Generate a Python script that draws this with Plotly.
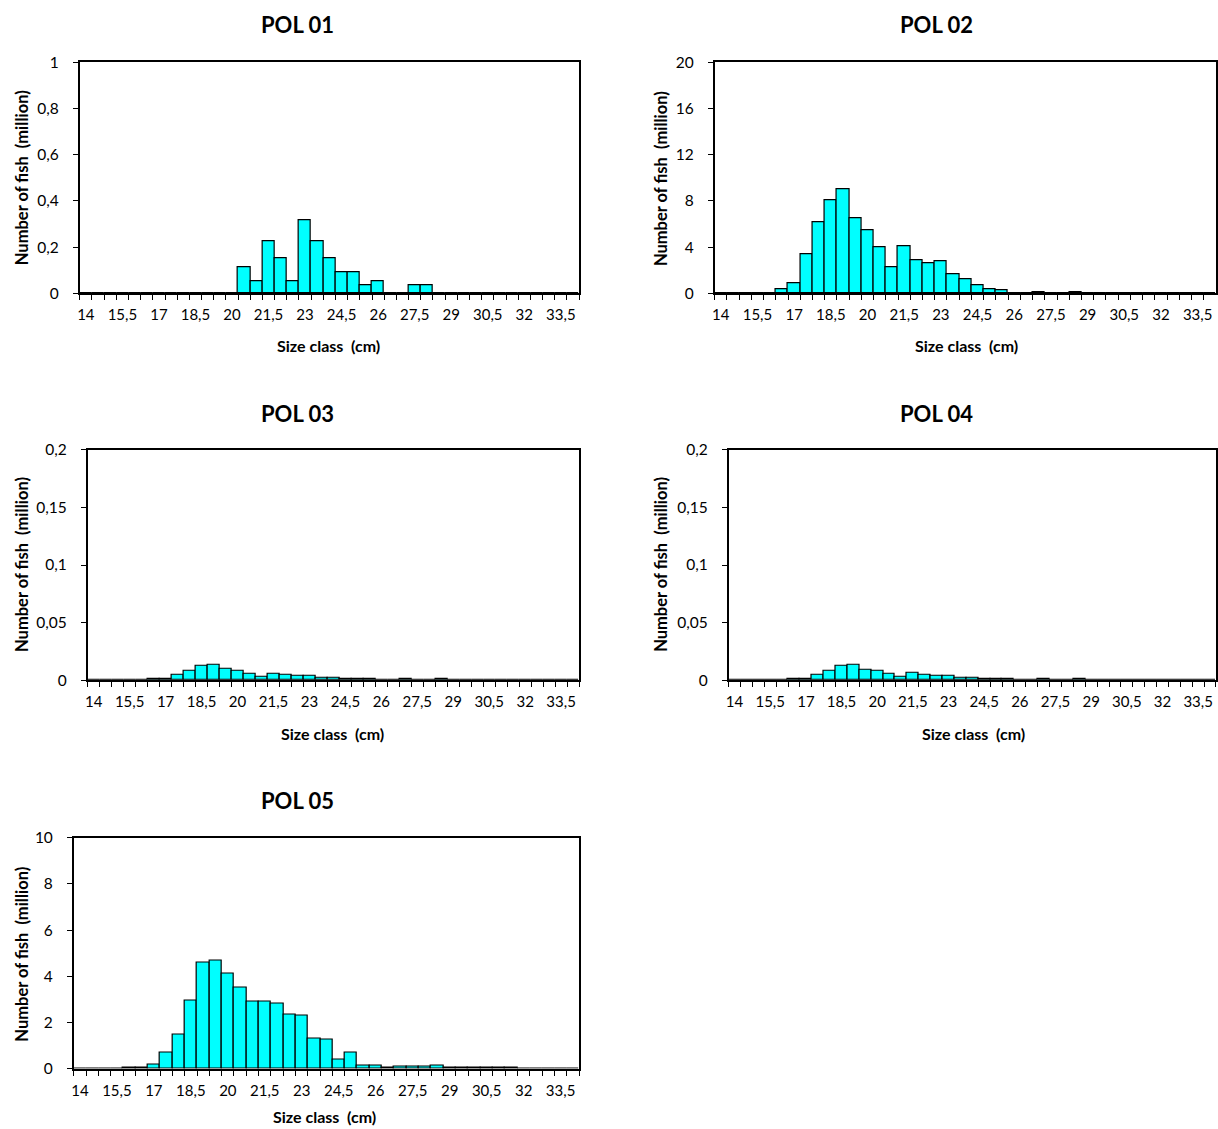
import plotly.graph_objects as go

categories = ["14", "14,5", "15", "15,5", "16", "16,5", "17", "17,5", "18", "18,5",
              "19", "19,5", "20", "20,5", "21", "21,5", "22", "22,5", "23", "23,5",
              "24", "24,5", "25", "25,5", "26", "26,5", "27", "27,5", "28", "28,5",
              "29", "29,5", "30", "30,5", "31", "31,5", "32", "32,5", "33", "33,5", "34"]

pol01 = [0, 0, 0, 0, 0, 0, 0, 0, 0, 0, 0, 0, 0,
         0.115, 0.055, 0.225, 0.152, 0.055, 0.315, 0.225, 0.152, 0.09, 0.09, 0.036, 0.055,
         0, 0, 0.036, 0.036,
         0, 0, 0, 0, 0, 0, 0, 0, 0, 0, 0, 0]

pol02 = [0, 0, 0, 0, 0,
         0.38, 0.85, 3.38, 6.16, 8.08, 9.05, 6.5, 5.44, 3.98, 2.31, 4.1, 2.9, 2.66, 2.8,
         1.67, 1.22, 0.74, 0.39, 0.27, 0, 0, 0.12, 0, 0, 0.12,
         0, 0, 0, 0, 0, 0, 0, 0, 0, 0, 0]

pol03 = [0, 0, 0, 0, 0,
         0.001, 0.001, 0.005, 0.008, 0.012, 0.013, 0.0095, 0.008, 0.0058, 0.0032, 0.0058,
         0.0049, 0.0035, 0.0035, 0.0023, 0.0023, 0.001, 0.001, 0.001, 0, 0, 0.001, 0, 0, 0.001,
         0, 0, 0, 0, 0, 0, 0, 0, 0, 0, 0]

pol04 = [0, 0, 0, 0, 0,
         0.001, 0.001, 0.005, 0.008, 0.012, 0.013, 0.0093, 0.008, 0.0058, 0.003, 0.006,
         0.005, 0.0035, 0.0035, 0.0023, 0.0023, 0.001, 0.001, 0.001, 0, 0, 0.001, 0, 0, 0.001,
         0, 0, 0, 0, 0, 0, 0, 0, 0, 0, 0]

pol05 = [0, 0, 0, 0,
         0.06, 0.06, 0.19, 0.72, 1.5, 2.96, 4.58, 4.66, 4.11, 3.5, 2.9, 2.9, 2.84, 2.35, 2.3,
         1.3, 1.26, 0.42, 0.72, 0.16, 0.16, 0.05, 0.1, 0.1, 0.1, 0.16,
         0.04, 0.04, 0.04, 0.04, 0.04, 0.04,
         0, 0, 0, 0, 0]

titles = ["POL 01", "POL 02", "POL 03", "POL 04", "POL 05"]
series = [pol01, pol02, pol03, pol04, pol05]
y_max = [1, 20, 0.2, 0.2, 10]
y_step = [0.2, 4, 0.05, 0.05, 2]

W, H = 1218, 1129
FONT = "Lato"

# plot areas in pixels: (left, right, top, bottom)
areas = [(77, 578, 53, 288), (714, 1217, 53, 288),
         (85, 578, 447, 681), (728, 1217, 447, 681),
         (71, 578, 841, 1076)]
title_pos = [(295, 15), (937, 15), (295, 410), (937, 410), (295, 803)]
xtitle_pos = [(327, 341), (967, 341), (331, 735), (974, 735), (323, 1124)]
ytitle_pos = [(19, 170), (660, 171), (19, 563), (660, 563), (19, 959)]

fig = go.Figure()
layout = dict(width=W, height=H, margin=dict(l=0, r=0, t=0, b=0, pad=0),
              paper_bgcolor="white", plot_bgcolor="white", showlegend=False,
              bargap=0, separators=",.", font=dict(family=FONT, color="black"))
annotations = []

def px(x):
    return x / W

def py(y):
    return 1 - y / H

for i in range(5):
    n = i + 1
    xa = "x" if n == 1 else f"x{n}"
    ya = "y" if n == 1 else f"y{n}"
    fig.add_trace(go.Bar(x=categories, y=series[i], xaxis=xa, yaxis=ya,
                         marker=dict(color="#00FFFF", line=dict(color="black", width=1.2)),
                         hoverinfo="x+y"))
    l, r, t, b = areas[i]
    layout[f"xaxis{n if n > 1 else ''}"] = dict(
        domain=[px(l), px(r)], anchor=ya, type="category",
        categoryorder="array", categoryarray=categories,
        tickmode="linear", tick0=0, dtick=1, ticklabelstep=3, tickson="boundaries",
        tickangle=0, ticklabelstandoff=7,
        ticks="outside", ticklen=5, tickwidth=1.2, tickcolor="black",
        showline=True, linecolor="black", linewidth=1.6, mirror=True,
        showgrid=False, tickfont=dict(size=15, family=FONT, color="black"),
        range=[-0.5, 40.5])
    layout[f"yaxis{n if n > 1 else ''}"] = dict(
        domain=[py(b), py(t)], anchor=xa, range=[0, y_max[i]], dtick=y_step[i], tick0=0,
        ticks="outside", ticklen=5, tickwidth=1.2, tickcolor="black", ticklabelstandoff=11,
        showline=True, linecolor="black", linewidth=1.6, mirror=True,
        showgrid=False, zeroline=False, tickfont=dict(size=15.5, family=FONT, color="black"))
    tx, ty = title_pos[i]
    annotations.append(dict(text=f"<b>{titles[i]}</b>", x=px(tx), y=py(ty), xref="paper", yref="paper",
                            showarrow=False, xanchor="center", yanchor="middle",
                            font=dict(size=22, family=FONT, color="black")))
    ax_, ay_ = xtitle_pos[i]
    annotations.append(dict(text="<b>Size class  (cm)</b>", x=px(ax_), y=py(ay_), xref="paper", yref="paper",
                            showarrow=False, xanchor="center", yanchor="middle",
                            font=dict(size=16, family=FONT, color="black")))
    yx, yy = ytitle_pos[i]
    annotations.append(dict(text="<b>Number of fish  (million)</b>", x=px(yx), y=py(yy), xref="paper", yref="paper",
                            showarrow=False, xanchor="center", yanchor="middle", textangle=-90,
                            font=dict(size=16.5, family=FONT, color="black")))

layout["annotations"] = annotations
fig.update_layout(**layout)
fig.write_html("out.html", config={"displayModeBar": False},
               post_script="document.body.style.margin='0';document.body.style.padding='0';document.body.style.overflow='hidden';")
